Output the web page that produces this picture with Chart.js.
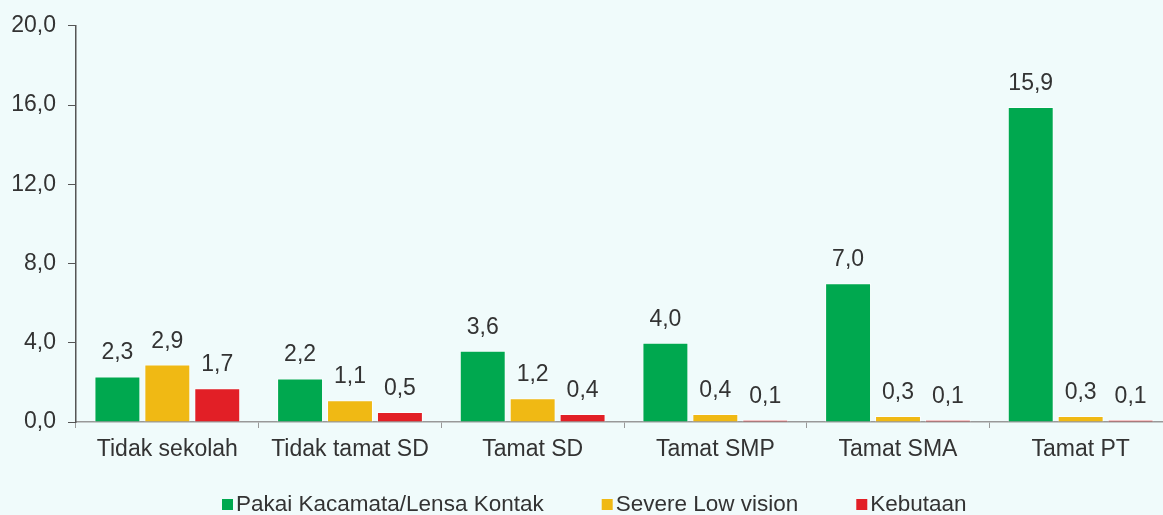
<!DOCTYPE html>
<html>
<head>
<meta charset="utf-8">
<script src="https://cdn.jsdelivr.net/npm/chart.js@4"></script>
<style>
  html, body { margin: 0; padding: 0; background: #f0fbfb; overflow: hidden; }
  #wrap { width: 1172px; height: 515px; position: relative; }
</style>
</head>
<body>
<div id="wrap"><canvas id="c"></canvas></div>
<script>
const categories = ["Tidak sekolah", "Tidak tamat SD", "Tamat SD", "Tamat SMP", "Tamat SMA", "Tamat PT"];
const seriesNames = ["Pakai Kacamata/Lensa Kontak", "Severe Low vision", "Kebutaan"];
const kacamata = [2.3, 2.2, 3.6, 4.0, 7.0, 15.9];
const lowVision = [2.9, 1.1, 1.2, 0.4, 0.3, 0.3];
const kebutaan = [1.7, 0.5, 0.4, 0.1, 0.1, 0.1];
const seriesColors = ['#00a84f', '#f0b914', '#e21f26'];
const yTicks = [0, 4, 8, 12, 16, 20];

const FONT = '"Liberation Sans", Arial, sans-serif';
const FSIZE = 23;
const LEG_FSIZE = 22.5;
const TXT = '#333333';
const fmt = v => Number(v).toFixed(1).replace('.', ',');

const labelPlugin = {
  id: 'barLabels',
  afterDatasetsDraw(chart) {
    const ctx = chart.ctx;
    ctx.save();
    ctx.font = FSIZE + 'px ' + FONT;
    ctx.fillStyle = TXT;
    ctx.textAlign = 'center';
    ctx.textBaseline = 'alphabetic';
    chart.data.datasets.forEach((ds, i) => {
      chart.getDatasetMeta(i).data.forEach((bar, j) => {
        ctx.fillText(fmt(ds.data[j]), bar.x, bar.y - 17);
      });
    });
    ctx.restore();
  }
};

const legendPlugin = {
  id: 'customLegend',
  afterDraw(chart) {
    const ctx = chart.ctx;
    ctx.save();
    ctx.font = LEG_FSIZE + 'px ' + FONT;
    ctx.textBaseline = 'alphabetic';
    ctx.textAlign = 'left';
    const box = 11, gapBox = 3, gapItem = 58, baseY = 511;
    let x = 222;
    chart.data.datasets.forEach((ds) => {
      ctx.fillStyle = ds.backgroundColor;
      ctx.fillRect(x, baseY - 12, box, box);
      x += box + gapBox;
      ctx.fillStyle = TXT;
      ctx.fillText(ds.label, x, baseY);
      x += ctx.measureText(ds.label).width + gapItem;
    });
    ctx.restore();
  }
};

new Chart(document.getElementById('c'), {
  type: 'bar',
  data: {
    labels: categories,
    datasets: [
      { label: seriesNames[0], data: kacamata, backgroundColor: seriesColors[0] },
      { label: seriesNames[1], data: lowVision, backgroundColor: seriesColors[1] },
      { label: seriesNames[2], data: kebutaan, backgroundColor: seriesColors[2] }
    ].map(d => Object.assign(d, { borderColor: 'rgba(255,255,255,0.7)', borderWidth: 1, borderSkipped: 'bottom' }))
  },
  options: {
    responsive: true,
    maintainAspectRatio: false,
    animation: false,
    layout: { padding: { top: 22, right: 0, left: 0, bottom: 43 } },
    categoryPercentage: 0.82,
    barPercentage: 0.92,
    plugins: {
      legend: { display: false },
      tooltip: { enabled: false }
    },
    scales: {
      x: {
        grid: { display: true, drawOnChartArea: false, offset: true, tickLength: 6, color: '#999999' },
        border: { display: true, color: '#999999', width: 1.5 },
        ticks: { font: { family: FONT, size: FSIZE }, color: TXT, padding: 8 },
        afterFit(s) { s.height = 50; }
      },
      y: {
        min: 0, max: 20,
        afterBuildTicks(s) { s.ticks = yTicks.map(v => ({ value: v })); },
        grid: { display: true, drawOnChartArea: false, tickLength: 8, color: '#555555' },
        border: { display: true, color: '#555555', width: 1.5 },
        ticks: { font: { family: FONT, size: FSIZE }, color: TXT, padding: 12, callback: v => fmt(v) },
        afterFit(s) { s.width = 76; }
      }
    }
  },
  plugins: [labelPlugin, legendPlugin]
});
</script>
</body>
</html>
